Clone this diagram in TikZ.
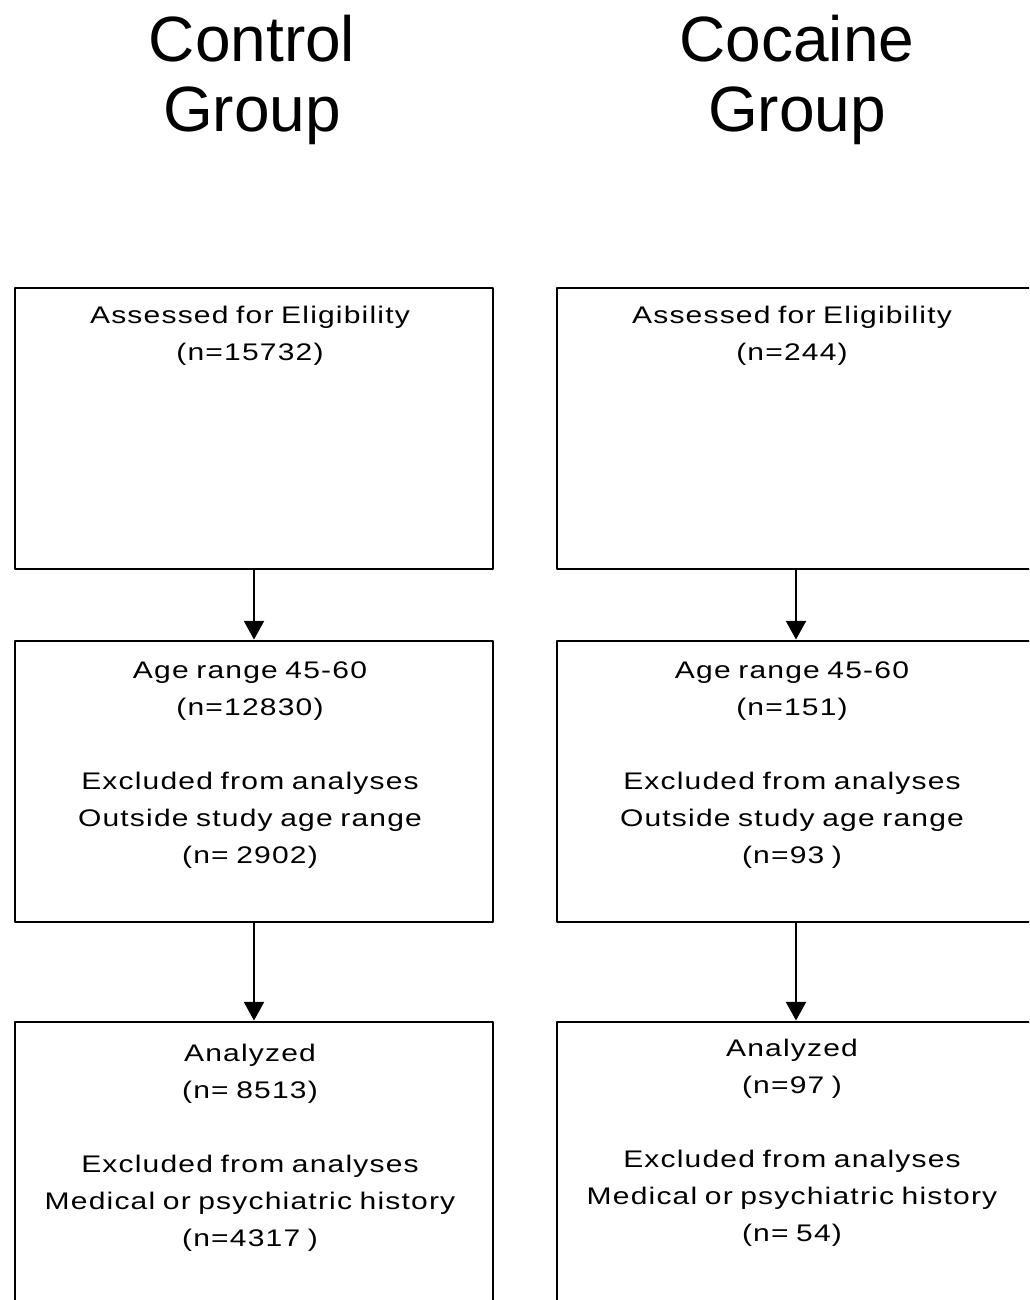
\documentclass[tikz,border=0pt]{standalone}
\usepackage{fontspec}
\setmainfont{Liberation Sans}
\newfontfamily\boxfont[FakeStretch=1.25,LetterSpace=5,WordSpace=0.8]{Liberation Sans}
\usetikzlibrary{arrows.meta}
\tikzset{
  box/.style={draw=black, line width=2.2pt, line join=round, minimum width=358.5pt, minimum height=210.75pt, inner sep=0pt},
  txt/.style={align=center, inner sep=0pt, anchor=base, text=black, font=\boxfont\fontsize{18}{27.75}\selectfont},
  ttl/.style={align=center, inner sep=0pt, anchor=base, font=\fontsize{48}{52.5}\selectfont},
  arr/.style={line width=1.6pt, -{Triangle[width=15pt,length=14pt]}}
}
\begin{document}
\begin{tikzpicture}[x=0.75pt, y=-0.75pt]
\useasboundingbox (0,0) rectangle (1029,1300);
\clip (0,0) rectangle (1029,1300);
% titles (anchor = baseline of last line)
\node[ttl] (tc) at (252,131) {Control\\Group};
\node[ttl] (tk) at (797,131) {Cocaine\\Group};
% left column
\node[box] (l1) at (254,428.5) {};
\node[box] (l2) at (254,781.5) {};
\node[box] (l3) at (254,1162.5) {};
% right column
\node[box] (r1) at (796,428.5) {};
\node[box] (r2) at (796,781.5) {};
\node[box] (r3) at (796,1162.5) {};
% texts left
\node[txt] (t1) at (250,360) {Assessed for Eligibility\\(n=15732)};
\node[txt] (t2) at (250,863) {Age range 45-60\\(n=12830)\\[27.75pt]Excluded from analyses\\Outside study age range\\(n= 2902)};
\node[txt] (t3) at (250,1246) {Analyzed\\(n= 8513)\\[27.75pt]Excluded from analyses\\Medical or psychiatric history\\(n=4317 )};
% texts right
\node[txt] (u1) at (792,360) {Assessed for Eligibility\\(n=244)};
\node[txt] (u2) at (792,863) {Age range 45-60\\(n=151)\\[27.75pt]Excluded from analyses\\Outside study age range\\(n=93 )};
\node[txt] (u3) at (792,1241) {Analyzed\\(n=97 )\\[27.75pt]Excluded from analyses\\Medical or psychiatric history\\(n= 54)};
% arrows
\draw[arr] (l1.south) -- (l2.north);
\draw[arr] (l2.south) -- (l3.north);
\draw[arr] (r1.south) -- (r2.north);
\draw[arr] (r2.south) -- (r3.north);
\end{tikzpicture}
\end{document}
